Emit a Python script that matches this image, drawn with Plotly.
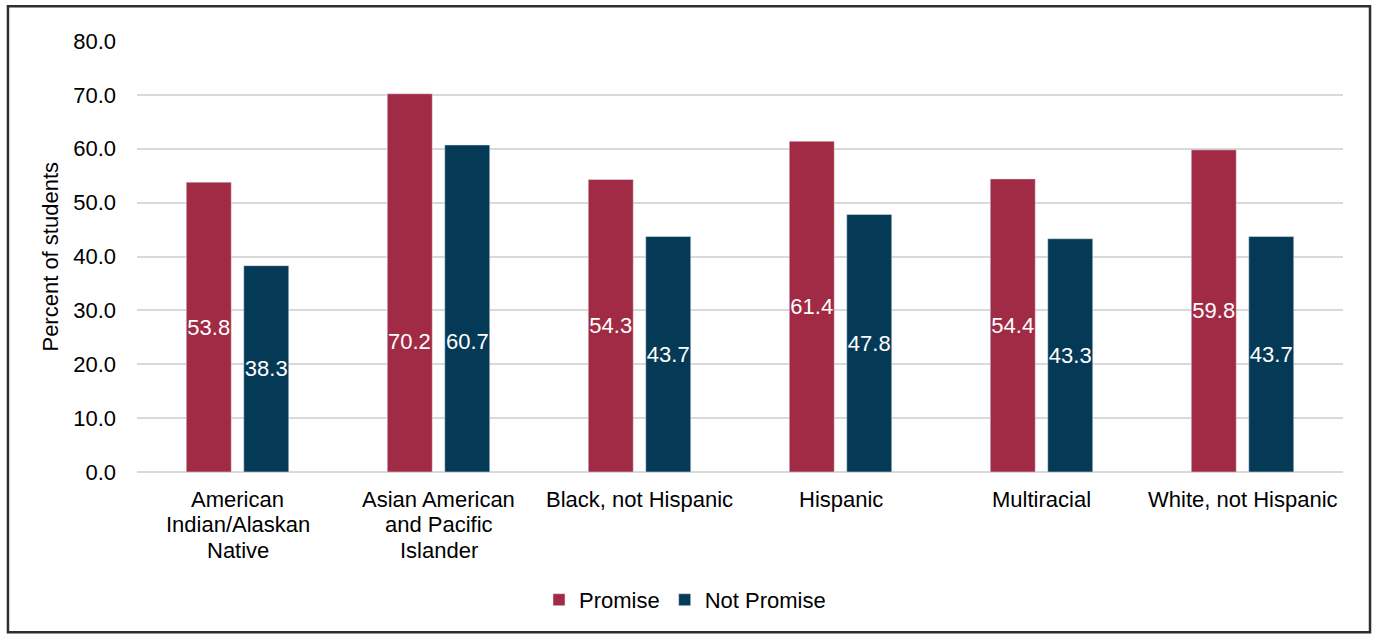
import plotly.graph_objects as go

# Student groups (line breaks mark how each label wraps under the axis)
categories = [
    "American<br>Indian/Alaskan<br>Native",
    "Asian American<br>and Pacific<br>Islander",
    "Black, not Hispanic",
    "Hispanic",
    "Multiracial",
    "White, not Hispanic",
]
promise = [53.8, 70.2, 54.3, 61.4, 54.4, 59.8]
not_promise = [38.3, 60.7, 43.7, 47.8, 43.3, 43.7]
y_ticks = [0, 10, 20, 30, 40, 50, 60, 70, 80]

RED = "#A12A44"
NAVY = "#053A57"
FONT = "Arial, Liberation Sans, sans-serif"
FS = 22

# Groups whose value labels sit at a fixed height instead of mid-bar
label_height_override = {1: 24.2}

BARGAP = 0.428
GROUPGAP = 0.217
slot = (1 - BARGAP) / 2  # share of a category taken by one bar slot
offsets = [-slot / 2, slot / 2]

x_idx = list(range(len(categories)))


def bar_text(values):
    return ["" if i in label_height_override else f"{v:.1f}" for i, v in enumerate(values)]


fig = go.Figure()
fig.add_trace(go.Bar(
    name="Promise", x=x_idx, y=promise, marker_color=RED,
    text=bar_text(promise), textposition="inside", insidetextanchor="middle",
    constraintext="none", textangle=0,
    textfont=dict(color="white", size=FS, family=FONT),
))
fig.add_trace(go.Bar(
    name="Not Promise", x=x_idx, y=not_promise, marker_color=NAVY,
    text=bar_text(not_promise), textposition="inside", insidetextanchor="middle",
    constraintext="none", textangle=0,
    textfont=dict(color="white", size=FS, family=FONT),
))

annotations = []
# value labels placed at a set height
for i, h in label_height_override.items():
    for off, vals in zip(offsets, (promise, not_promise)):
        annotations.append(dict(
            x=i + off, y=h, xref="x", yref="y", text=f"{vals[i]:.1f}",
            showarrow=False, font=dict(color="white", size=FS, family=FONT),
            xanchor="center", yanchor="middle",
        ))

# category labels, one annotation per line for tight line spacing
for i, cat in enumerate(categories):
    for j, line in enumerate(cat.split("<br>")):
        annotations.append(dict(
            x=i, y=0, xref="x", yref="y", text=line, showarrow=False,
            yshift=-(27.4 + 25.5 * j), xanchor="center", yanchor="middle",
            font=dict(color="black", size=FS, family=FONT),
        ))

# y-axis title
annotations.append(dict(
    x=-0.0721, y=0.5, xref="paper", yref="paper", text="Percent of students",
    textangle=-90, showarrow=False, xanchor="center", yanchor="middle",
    font=dict(color="black", size=FS, family=FONT),
))

fig.update_layout(
    width=1374, height=635,
    margin=dict(l=137, r=31, t=41, b=163),
    paper_bgcolor="white", plot_bgcolor="white",
    barmode="group", bargap=BARGAP, bargroupgap=GROUPGAP,
    font=dict(family=FONT, size=FS, color="black"),
    showlegend=True,
    legend=dict(
        orientation="h", x=0.4544, y=-0.2968, xanchor="center", yanchor="middle",
        font=dict(size=FS, color="black", family=FONT), traceorder="normal",
        bgcolor="rgba(0,0,0,0)",
    ),
    annotations=annotations,
    shapes=[dict(
        type="rect", xref="paper", yref="paper",
        x0=-0.107, x1=1.0224, y0=-0.372, y1=1.0805,
        line=dict(color="#2e2e2e", width=2.5), fillcolor="rgba(0,0,0,0)",
        layer="below",
    )],
)
fig.update_xaxes(
    type="linear", range=[-0.5, len(categories) - 0.5], showticklabels=False,
    showgrid=False, zeroline=False, showline=False, ticks="",
)
fig.update_yaxes(
    range=[0, 80], tickvals=y_ticks, tickformat=".1f", ticks="",
    showgrid=True, gridcolor="#d9d9d9", gridwidth=2,
    zeroline=True, zerolinecolor="#d9d9d9", zerolinewidth=2,
    showline=False, ticklabelstandoff=20,
    tickfont=dict(size=FS, color="black", family=FONT),
)

fig.write_html("out.html")
